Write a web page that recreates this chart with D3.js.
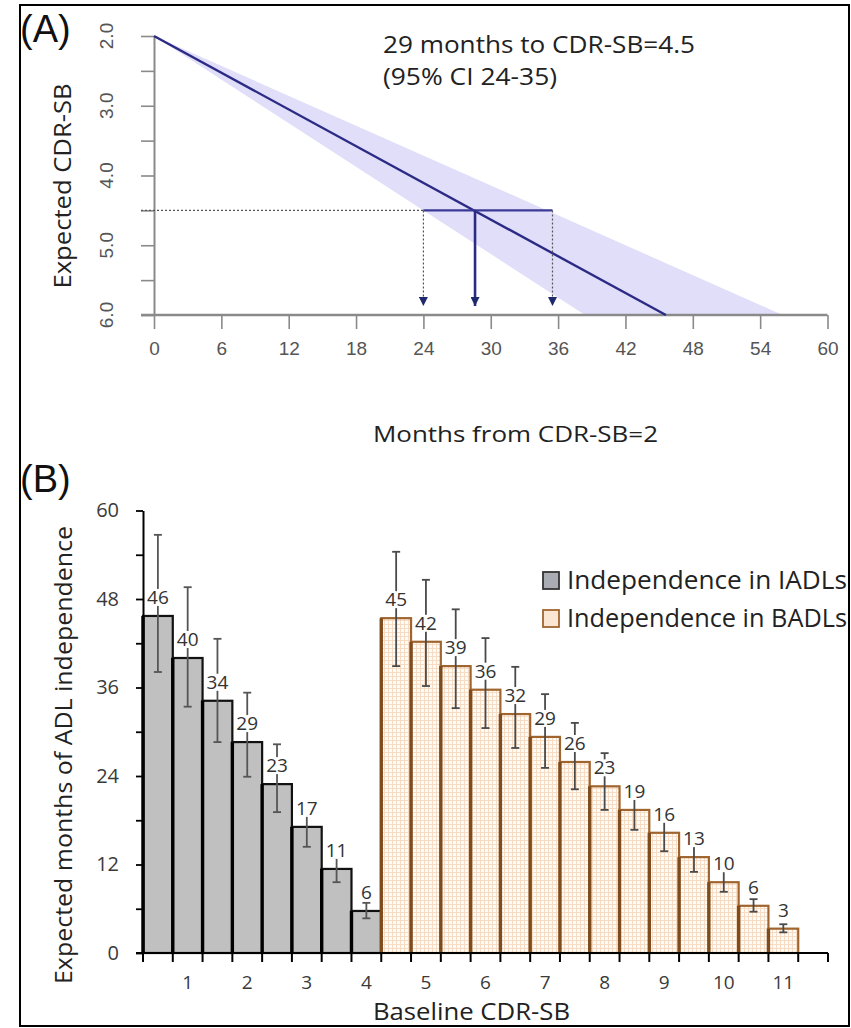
<!DOCTYPE html>
<html><head><meta charset="utf-8">
<script src="https://cdn.jsdelivr.net/npm/d3@7"></script>
<style>body{margin:0;background:#fff} svg{display:block}</style>
</head><body>
<svg id="chart" width="851" height="1028"></svg>
<script>
// ---------- Panel A data ----------
const cdrTicksA = [2.0, 3.0, 4.0, 5.0, 6.0];
const cdrMinorTicksA = [2.0, 2.5, 3.0, 3.5, 4.0, 4.5, 5.0, 5.5, 6.0];
const monthTicks = [0, 6, 12, 18, 24, 30, 36, 42, 48, 54, 60];
const meanMonths = [0, 45.6];
const meanCdr = [2.0, 6.0];
const bandFastMonths = [0, 38.4];
const bandSlowMonths = [0, 56.0];
const bandCdr = [2.0, 6.0];
const targetCdr = 4.5;
const estMonths = 28.6;
const ciMonths = [24, 35.5];
const annotationLines = ["29 months to CDR-SB=4.5", "(95% CI 24-35)"];

// ---------- Panel B data ----------
const baselineCdr = [0.5, 1, 1.5, 2, 2.5, 3, 3.5, 4, 4.5, 5, 5.5, 6, 6.5, 7, 7.5, 8, 8.5, 9, 9.5, 10, 10.5, 11, 11.5];
const xLabelsB = [1, 2, 3, 4, 5, 6, 7, 8, 9, 10, 11];
const yTicksB = [0, 12, 24, 36, 48, 60];
const yMinorB = [0, 6, 12, 18, 24, 30, 36, 42, 48, 54, 60];
const iadlCdr = [0.5, 1, 1.5, 2, 2.5, 3, 3.5, 4];
const iadlMonths = [45.7, 40.0, 34.2, 28.6, 22.9, 17.1, 11.4, 5.7];
const iadlLow = [38.1, 33.4, 28.6, 23.9, 19.1, 14.4, 9.6, 4.7];
const iadlHigh = [56.7, 49.6, 42.6, 35.3, 28.3, 19.8, 12.9, 6.8];
const badlCdr = [4.5, 5, 5.5, 6, 6.5, 7, 7.5, 8, 8.5, 9, 9.5, 10, 10.5, 11];
const badlMonths = [45.4, 42.2, 38.9, 35.7, 32.4, 29.3, 25.9, 22.6, 19.4, 16.3, 13.0, 9.6, 6.4, 3.3];
const badlLow = [38.9, 36.2, 33.2, 30.5, 27.8, 25.1, 22.2, 19.4, 16.7, 13.8, 11.0, 8.3, 5.6, 2.8];
const badlHigh = [54.4, 50.6, 46.6, 42.7, 38.8, 35.1, 31.2, 27.1, 22.5, 19.0, 15.2, 11.2, 7.3, 3.9];
const legendLabels = ["Independence in IADLs", "Independence in BADLs"];

const svg = d3.select("#chart");
const FONT = "'Open Sans', 'Noto Sans', sans-serif";
const ARIAL = "'Liberation Sans', Arial, sans-serif";

// defs
const defs = svg.append("defs");
const pat = defs.append("pattern").attr("id", "grid").attr("width", 4).attr("height", 4)
  .attr("patternUnits", "userSpaceOnUse");
pat.append("rect").attr("width", 4).attr("height", 4).attr("fill", "#fffcf8");
pat.append("path").attr("d", "M0 0.5H4M0.5 0V4").attr("stroke", "#f7dbc2").attr("stroke-width", 1);
defs.append("marker").attr("id", "arrow").attr("viewBox", "0 0 10 10")
  .attr("refX", 5).attr("refY", 10).attr("markerWidth", 9).attr("markerHeight", 10)
  .attr("markerUnits", "userSpaceOnUse").attr("orient", "0")
  .append("path").attr("d", "M0,0L10,0L5,10Z").attr("fill", "#1f2a6e");

// frame
svg.append("rect").attr("x", 20).attr("y", 5).attr("width", 829).attr("height", 1021)
  .attr("fill", "none").attr("stroke", "#000").attr("stroke-width", 2);

// ================= Panel A =================
const xA = d3.scaleLinear().domain([0, 60]).range([154, 827.5]);
const yA = d3.scaleLinear().domain([2, 6]).range([36, 315]);
const gA = svg.append("g");

// CI band
const bandPts = [[bandFastMonths[0], bandCdr[0]], [bandSlowMonths[1], bandCdr[1]], [bandFastMonths[1], bandCdr[1]]];
gA.append("path").attr("d", d3.line().x(d => xA(d[0])).y(d => yA(d[1]))(bandPts) + "Z")
  .attr("fill", "#e0def9").attr("stroke", "none");

// y axis
const yAxisA = d3.axisLeft(yA).tickValues(cdrMinorTicksA).tickSize(13).tickSizeOuter(0).tickFormat("");
const gyA = gA.append("g").attr("transform", `translate(${xA(0)},0)`).call(yAxisA);
gyA.select(".domain").attr("stroke", "#8a8a8a").attr("stroke-width", 2);
gyA.selectAll(".tick line").attr("stroke", "#8a8a8a").attr("stroke-width", 1.6);
gA.selectAll(".ylabA").data(cdrTicksA).join("text")
  .attr("transform", d => `translate(113,${yA(d)}) rotate(-90)`)
  .attr("text-anchor", "middle").attr("font-family", ARIAL).attr("font-size", 19)
  .attr("fill", "#555").text(d => d3.format(".1f")(d));

// x axis
const xAxisA = d3.axisBottom(xA).tickValues(monthTicks).tickSize(14).tickPadding(13).tickSizeOuter(0);
const gxA = gA.append("g").attr("transform", `translate(0,${yA(6)})`).call(xAxisA);
gxA.select(".domain").remove();
gxA.selectAll(".tick line").attr("stroke", "#8a8a8a").attr("stroke-width", 1.6);
gxA.selectAll(".tick text").attr("font-family", ARIAL).attr("font-size", 19).attr("fill", "#555");
gA.append("line").attr("x1", xA(0) - 13).attr("x2", xA(60)).attr("y1", yA(6)).attr("y2", yA(6))
  .attr("stroke", "#8a8a8a").attr("stroke-width", 2.6);

// mean line
gA.append("path").attr("d", d3.line().x((d, i) => xA(meanMonths[i])).y(d => yA(d))(meanCdr))
  .attr("stroke", "#2b2b85").attr("stroke-width", 2.4).attr("fill", "none");

// dotted guide lines
gA.append("line").attr("x1", xA(0) - 13).attr("x2", xA(ciMonths[0])).attr("y1", yA(targetCdr)).attr("y2", yA(targetCdr))
  .attr("stroke", "#555").attr("stroke-width", 1.2).attr("stroke-dasharray", "2,2");
ciMonths.forEach(m => {
  gA.append("line").attr("x1", xA(m)).attr("x2", xA(m)).attr("y1", yA(targetCdr)).attr("y2", yA(6) - 9)
    .attr("stroke", "#555").attr("stroke-width", 1.2).attr("stroke-dasharray", "2,2")
    .attr("marker-end", "url(#arrow)");
});
gA.append("line").attr("x1", xA(ciMonths[0])).attr("x2", xA(ciMonths[1])).attr("y1", yA(targetCdr)).attr("y2", yA(targetCdr))
  .attr("stroke", "#3a3a95").attr("stroke-width", 2.2);
gA.append("line").attr("x1", xA(estMonths)).attr("x2", xA(estMonths)).attr("y1", yA(targetCdr)).attr("y2", yA(6) - 9)
  .attr("stroke", "#2b2b85").attr("stroke-width", 2.6).attr("marker-end", "url(#arrow)");

// annotation
gA.append("text").attr("x", 383).attr("y", 53).attr("font-family", FONT).attr("font-size", 24)
  .attr("fill", "#222").attr("textLength", 312).attr("lengthAdjust", "spacingAndGlyphs").text(annotationLines[0]);
gA.append("text").attr("x", 383).attr("y", 85).attr("font-family", FONT).attr("font-size", 24)
  .attr("fill", "#222").attr("textLength", 174).attr("lengthAdjust", "spacingAndGlyphs").text(annotationLines[1]);

// titles A
gA.append("text").attr("transform", "translate(71,186) rotate(-90)").attr("text-anchor", "middle")
  .attr("font-family", FONT).attr("font-size", 24).attr("fill", "#222")
  .attr("textLength", 205).attr("lengthAdjust", "spacingAndGlyphs").text("Expected CDR-SB");
gA.append("text").attr("x", 373).attr("y", 442).attr("font-family", FONT).attr("font-size", 22)
  .attr("fill", "#222").attr("textLength", 285).attr("lengthAdjust", "spacingAndGlyphs").text("Months from CDR-SB=2");
svg.append("text").attr("x", 20).attr("y", 42).attr("font-family", ARIAL).attr("font-size", 38)
  .attr("fill", "#111").text("(A)");
svg.append("text").attr("x", 20).attr("y", 492).attr("font-family", ARIAL).attr("font-size", 38)
  .attr("fill", "#111").text("(B)");

// ================= Panel B =================
const xB = d3.scaleBand().domain(baselineCdr).range([143, 828]).padding(0);
const yB = d3.scaleLinear().domain([0, 60]).range([953, 510.5]);
const gB = svg.append("g");
const bw = xB.bandwidth();

const series = [
  { cdr: iadlCdr, val: iadlMonths, lo: iadlLow, hi: iadlHigh, fill: "#c0c0c0", stroke: "#111", edge: "#000", err: "#555" },
  { cdr: badlCdr, val: badlMonths, lo: badlLow, hi: badlHigh, fill: "url(#grid)", stroke: "#a0652f", edge: "#7e4b1d", err: "#4a4a4a" }
];

series.forEach(s => {
  const data = s.cdr.map((c, i) => ({ c, v: s.val[i], lo: s.lo[i], hi: s.hi[i] }));
  const g = gB.append("g");
  g.selectAll("rect.bar").data(data).join("rect").attr("class", "bar")
    .attr("x", d => xB(d.c)).attr("width", bw)
    .attr("y", d => yB(d.v)).attr("height", d => yB(0) - yB(d.v))
    .attr("fill", s.fill).attr("stroke", s.stroke).attr("stroke-width", 2.2);
  g.selectAll("line.edge").data(data).join("line").attr("class", "edge")
    .attr("x1", d => xB(d.c)).attr("x2", d => xB(d.c))
    .attr("y1", d => yB(d.v)).attr("y2", yB(0))
    .attr("stroke", s.edge).attr("stroke-width", 3.4);
  // error bars
  const eg = g.selectAll("g.err").data(data).join("g").attr("class", "err")
    .attr("stroke", s.err).attr("stroke-width", 1.8);
  eg.append("line").attr("x1", d => xB(d.c) + bw / 2).attr("x2", d => xB(d.c) + bw / 2)
    .attr("y1", d => yB(d.lo)).attr("y2", d => yB(d.hi));
  eg.append("line").attr("x1", d => xB(d.c) + bw / 2 - 4).attr("x2", d => xB(d.c) + bw / 2 + 4)
    .attr("y1", d => yB(d.lo)).attr("y2", d => yB(d.lo));
  eg.append("line").attr("x1", d => xB(d.c) + bw / 2 - 4).attr("x2", d => xB(d.c) + bw / 2 + 4)
    .attr("y1", d => yB(d.hi)).attr("y2", d => yB(d.hi));
  // value labels with white background
  const lg = g.selectAll("g.lab").data(data).join("g").attr("class", "lab");
  const bg = lg.append("rect").attr("fill", "#fff");
  const tx = lg.append("text")
    .attr("x", d => xB(d.c) + bw / 2).attr("y", d => yB(d.v) - 12)
    .attr("text-anchor", "middle").attr("font-family", FONT).attr("font-size", 19)
    .attr("fill", "#333").text(d => d3.format(".0f")(d.v));
  tx.each(function(d, i) {
    const b = this.getBBox();
    d3.select(bg.nodes()[i]).attr("x", b.x).attr("y", b.y + 5).attr("width", b.width).attr("height", b.height - 9);
  });
});

// y axis B
const yAxisB = d3.axisLeft(yB).tickValues(yMinorB).tickSize(7).tickPadding(17).tickSizeOuter(0)
  .tickFormat(d => yTicksB.includes(d) ? d : "");
const gyB = gB.append("g").attr("transform", `translate(${xB.range()[0]},0)`).call(yAxisB);
gyB.select(".domain").attr("stroke", "#000").attr("stroke-width", 2);
gyB.selectAll(".tick line").attr("stroke", "#000").attr("stroke-width", 1.8);
gyB.selectAll(".tick text").attr("font-family", FONT).attr("font-size", 20).attr("fill", "#3a3a3a");

// x axis B
const xAxisB = d3.axisBottom(xB).tickValues(xLabelsB).tickSize(0).tickSizeOuter(0).tickPadding(0).tickFormat(d => d);
const gxB = gB.append("g").attr("transform", `translate(0,${yB(0)})`).call(xAxisB);
gxB.select(".domain").remove();
gxB.selectAll(".tick text").attr("y", 36).attr("dy", null)
  .attr("font-family", FONT).attr("font-size", 19).attr("fill", "#3a3a3a");
const boundaries = baselineCdr.map(c => xB(c)).concat([xB.range()[1]]);
gB.selectAll("line.xtick").data(boundaries).join("line").attr("class", "xtick")
  .attr("x1", d => d).attr("x2", d => d).attr("y1", yB(0)).attr("y2", yB(0) + 9)
  .attr("stroke", "#000").attr("stroke-width", 2);
gB.append("line").attr("x1", xB.range()[0] - 7).attr("x2", xB.range()[1]).attr("y1", yB(0)).attr("y2", yB(0))
  .attr("stroke", "#000").attr("stroke-width", 2.2);

// titles B
gB.append("text").attr("transform", "translate(72,755) rotate(-90)").attr("text-anchor", "middle")
  .attr("font-family", FONT).attr("font-size", 24).attr("fill", "#222")
  .attr("textLength", 458).attr("lengthAdjust", "spacingAndGlyphs").text("Expected months of ADL independence");
gB.append("text").attr("x", 373).attr("y", 1020).attr("font-family", FONT).attr("font-size", 23)
  .attr("fill", "#222").attr("textLength", 197).attr("lengthAdjust", "spacingAndGlyphs").text("Baseline CDR-SB");

// legend
const legFill = ["#a9acb2", "#fbe6d3"];
const legStroke = ["#333", "#a0652f"];
const legY = [589, 627];
legendLabels.forEach((t, i) => {
  gB.append("rect").attr("x", 543).attr("y", legY[i] - 17).attr("width", 16).attr("height", 17)
    .attr("fill", legFill[i]).attr("stroke", legStroke[i]).attr("stroke-width", 1.8);
  gB.append("text").attr("x", 567).attr("y", legY[i]).attr("font-family", FONT).attr("font-size", 25)
    .attr("fill", "#222").attr("textLength", 280).attr("lengthAdjust", "spacingAndGlyphs").text(t);
});
</script>
</body></html>
